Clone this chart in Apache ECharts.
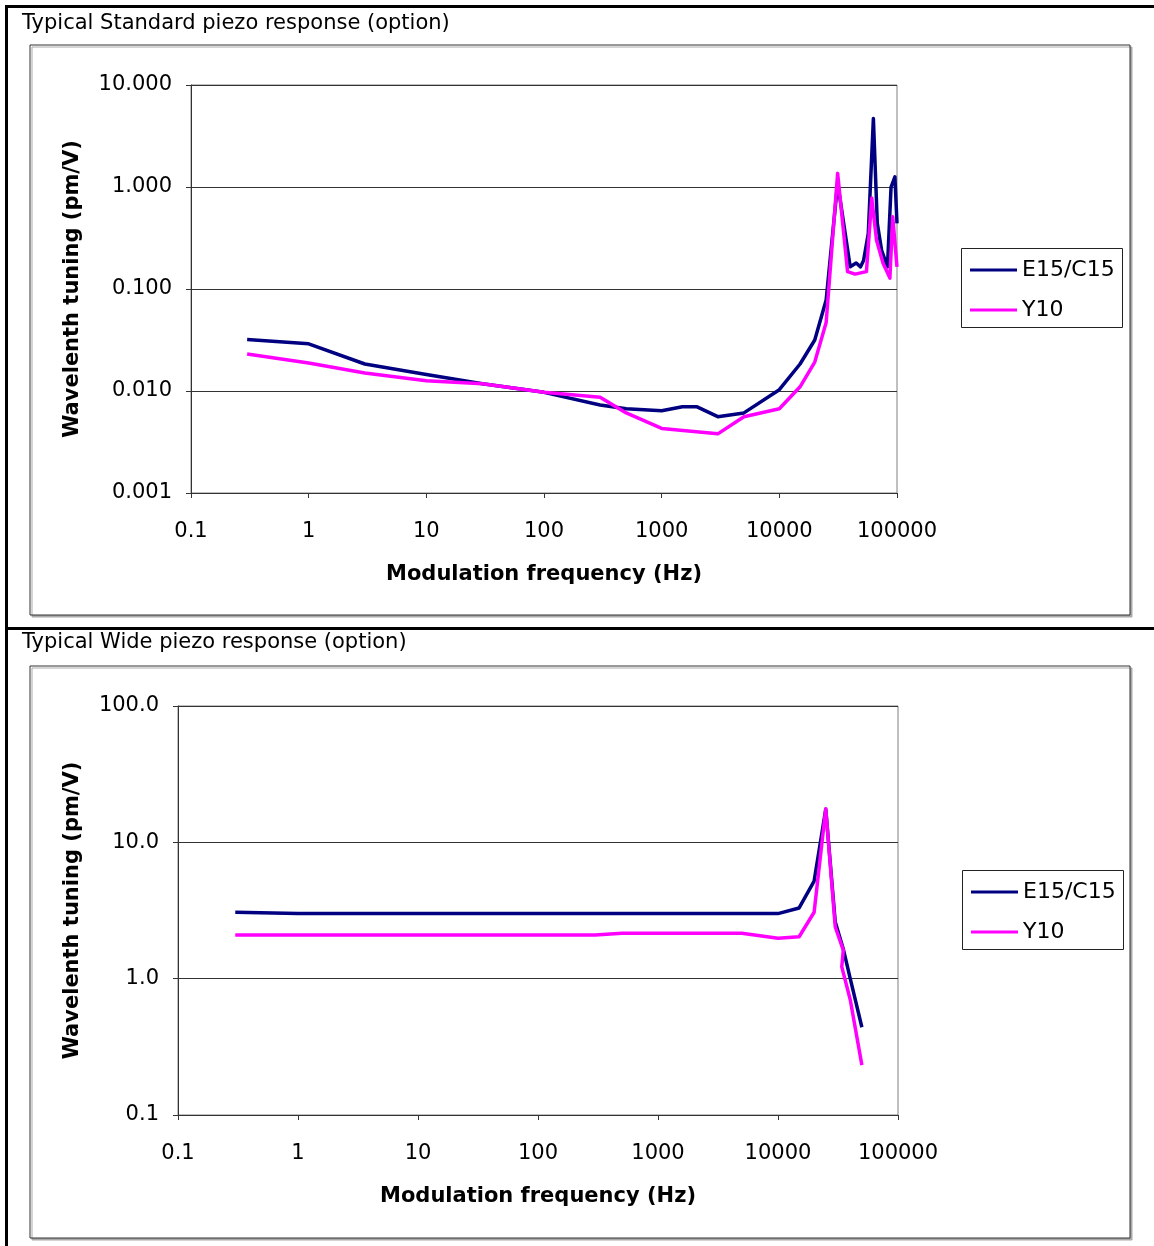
<!DOCTYPE html>
<html><head><meta charset="utf-8">
<script src="https://cdn.jsdelivr.net/npm/echarts@6/dist/echarts.min.js"></script>
<style>html,body{margin:0;padding:0;background:#fff}#c{width:1154px;height:1246px}</style>
</head><body><div id="c"></div>
<script>
// ---- data ----
const seriesNames = ['E15/C15', 'Y10'];
const titles = ['Typical Standard piezo response (option)', 'Typical Wide piezo response (option)'];
const xAxisName = 'Modulation frequency (Hz)';
const yAxisName = 'Wavelenth tuning (pm/V)';
const xTickLabels = ['0.1', '1', '10', '100', '1000', '10000', '100000'];
const stdYTickLabels = ['0.001', '0.010', '0.100', '1.000', '10.000'];
const wideYTickLabels = ['0.1', '1.0', '10.0', '100.0'];

// Standard piezo
const stdFreqE = [0.3, 1, 3, 10, 30, 100, 300, 500, 1000, 1500, 2000, 3000, 5000, 10000, 15000, 20000, 25000, 31300, 40000, 45000, 49000, 52000, 57000, 63000, 68000, 74000, 83000, 89000, 96000, 100000];
const stdValE  = [0.032, 0.029, 0.0184, 0.0145, 0.0118, 0.0097, 0.0073, 0.0067, 0.0064, 0.0070, 0.0070, 0.0056, 0.0061, 0.0103, 0.0184, 0.0316, 0.078, 1.1, 0.165, 0.18, 0.165, 0.19, 0.35, 4.7, 0.44, 0.24, 0.165, 1.0, 1.26, 0.44];
const stdFreqY = [0.3, 1, 3, 10, 30, 100, 300, 500, 1000, 3000, 5000, 10000, 15000, 20000, 25000, 31300, 38000, 44000, 55000, 61000, 67000, 76000, 87000, 92000, 100000];
const stdValY  = [0.023, 0.0188, 0.015, 0.0126, 0.0118, 0.0097, 0.0087, 0.0061, 0.0043, 0.0038, 0.0056, 0.0067, 0.011, 0.0192, 0.047, 1.36, 0.148, 0.14, 0.148, 0.78, 0.30, 0.18, 0.128, 0.51, 0.165];

// Wide piezo
const wideFreqE = [0.3, 1, 3, 10, 30, 100, 300, 500, 1000, 2000, 3000, 5000, 10000, 15000, 20000, 25000, 30000, 35000, 40000, 50000];
const wideValE  = [3.07, 3.0, 3.0, 3.0, 3.0, 3.0, 3.0, 3.0, 3.0, 3.0, 3.0, 3.0, 3.0, 3.3, 5.2, 17.5, 2.6, 1.65, 1.0, 0.44];
const wideFreqY = [0.3, 1, 3, 10, 30, 100, 300, 500, 1000, 2000, 3000, 5000, 10000, 15000, 20000, 25000, 30000, 35000, 34000, 40000, 50000];
const wideValY  = [2.09, 2.09, 2.09, 2.09, 2.09, 2.09, 2.09, 2.15, 2.15, 2.15, 2.15, 2.15, 1.98, 2.03, 3.07, 17.6, 2.4, 1.62, 1.22, 0.70, 0.232];

// ---- build ----
const FONT = 'DejaVu Sans';
const NAVY = '#000080', MAGENTA = '#FF00FF';
const pairs = (xs, ys) => xs.map((x, i) => [x, ys[i]]);
const logLabel = (arr, min) => (v) => arr[Math.round(Math.log10(v) - Math.log10(min))] || '';

function xAxisCfg(gridIndex) {
  return {
    type: 'log', logBase: 10, gridIndex, min: 0.1, max: 100000, splitNumber: 6,
    name: xAxisName, nameLocation: 'middle', nameGap: 71,
    nameTextStyle: { fontFamily: FONT, fontWeight: 'bold', fontSize: 21, color: '#000' },
    axisLine: { lineStyle: { color: '#333', width: 1 } },
    axisTick: { show: true, inside: false, length: 5, lineStyle: { color: '#333' } },
    minorTick: { show: false },
    axisLabel: { margin: 28, fontFamily: FONT, fontSize: 21, color: '#000', formatter: logLabel(xTickLabels, 0.1), showMinLabel: true, showMaxLabel: true },
    splitLine: { show: false }
  };
}
function yAxisCfg(gridIndex, min, max, labels, gap) {
  return {
    type: 'log', logBase: 10, gridIndex, min, max, splitNumber: labels.length - 1,
    name: yAxisName, nameLocation: 'middle', nameGap: gap, nameRotate: 90,
    nameTextStyle: { fontFamily: FONT, fontWeight: 'bold', fontSize: 21, color: '#000' },
    axisLine: { show: true, lineStyle: { color: '#333', width: 1 } },
    axisTick: { show: true, inside: false, length: 5, lineStyle: { color: '#333' } },
    minorTick: { show: false },
    axisLabel: { margin: 19, fontFamily: FONT, fontSize: 21, color: '#000', formatter: logLabel(labels, min), showMinLabel: true, showMaxLabel: true },
    splitLine: { show: true, lineStyle: { color: '#333', width: 1 } }
  };
}
function lineSeries(name, data, idx, color) {
  return {
    type: 'line', name, data, xAxisIndex: idx, yAxisIndex: idx,
    showSymbol: false, symbol: 'none', smooth: false,
    lineStyle: { color, width: 3.5, join: 'round' }, itemStyle: { color },
    emphasis: { disabled: true }
  };
}
function legendCfg(left, top) {
  return {
    data: seriesNames, orient: 'vertical', left, top, padding: 0, itemGap: 18,
    icon: 'rect', itemWidth: 47, itemHeight: 3,
    textStyle: { fontFamily: FONT, fontSize: 22, color: '#000', lineHeight: 22 },
    selectedMode: false
  };
}
const boxStyle = { fill: '#fff', stroke: '#333', lineWidth: 1, shadowColor: '#aaa', shadowOffsetX: 2, shadowOffsetY: 2, shadowBlur: 0 };

const option = {
  animation: false,
  backgroundColor: '#fff',
  grid: [
    { left: 191, top: 85, width: 706, height: 408, show: true, borderColor: '#808080', borderWidth: 1, backgroundColor: 'transparent' },
    { left: 178, top: 706, width: 720, height: 409, show: true, borderColor: '#808080', borderWidth: 1, backgroundColor: 'transparent' }
  ],
  xAxis: [xAxisCfg(0), xAxisCfg(1)],
  yAxis: [yAxisCfg(0, 0.001, 10, stdYTickLabels, 108), yAxisCfg(1, 0.1, 100, wideYTickLabels, 95)],
  legend: [legendCfg(970, 259), legendCfg(971, 881)],
  series: [
    lineSeries(seriesNames[0], pairs(stdFreqE, stdValE), 0, NAVY),
    lineSeries(seriesNames[1], pairs(stdFreqY, stdValY), 0, MAGENTA),
    lineSeries(seriesNames[0], pairs(wideFreqE, wideValE), 1, NAVY),
    lineSeries(seriesNames[1], pairs(wideFreqY, wideValY), 1, MAGENTA)
  ],
  graphic: [
    // panel frames
    { type: 'rect', z: -10, silent: true, shape: { x: 30, y: 45, width: 1100, height: 570 }, style: boxStyle },
    { type: 'rect', z: -10, silent: true, shape: { x: 30, y: 666, width: 1100, height: 572 }, style: boxStyle },
    // thick outer lines
    { type: 'rect', z: -5, silent: true, shape: { x: 5, y: 5, width: 1149, height: 3 }, style: { fill: '#000' } },
    { type: 'rect', z: -5, silent: true, shape: { x: 5, y: 5, width: 3, height: 1241 }, style: { fill: '#000' } },
    { type: 'rect', z: -5, silent: true, shape: { x: 5, y: 627, width: 1149, height: 3 }, style: { fill: '#000' } },
    // legend boxes
    { type: 'rect', z: -5, silent: true, shape: { x: 961.5, y: 248.5, width: 161, height: 79 }, style: { fill: '#fff', stroke: '#222', lineWidth: 1 } },
    { type: 'rect', z: -5, silent: true, shape: { x: 962.5, y: 870.5, width: 161, height: 79 }, style: { fill: '#fff', stroke: '#222', lineWidth: 1 } },
    // titles
    { type: 'text', silent: true, style: { x: 22, y: 24, text: titles[0], font: '21px "' + FONT + '"', fill: '#000', verticalAlign: 'middle' } },
    { type: 'text', silent: true, style: { x: 22, y: 643, text: titles[1], font: '21px "' + FONT + '"', fill: '#000', verticalAlign: 'middle' } }
  ]
};

const chart = echarts.init(document.getElementById('c'), null, { renderer: 'canvas' });
chart.setOption(option);
</script>
</body></html>
